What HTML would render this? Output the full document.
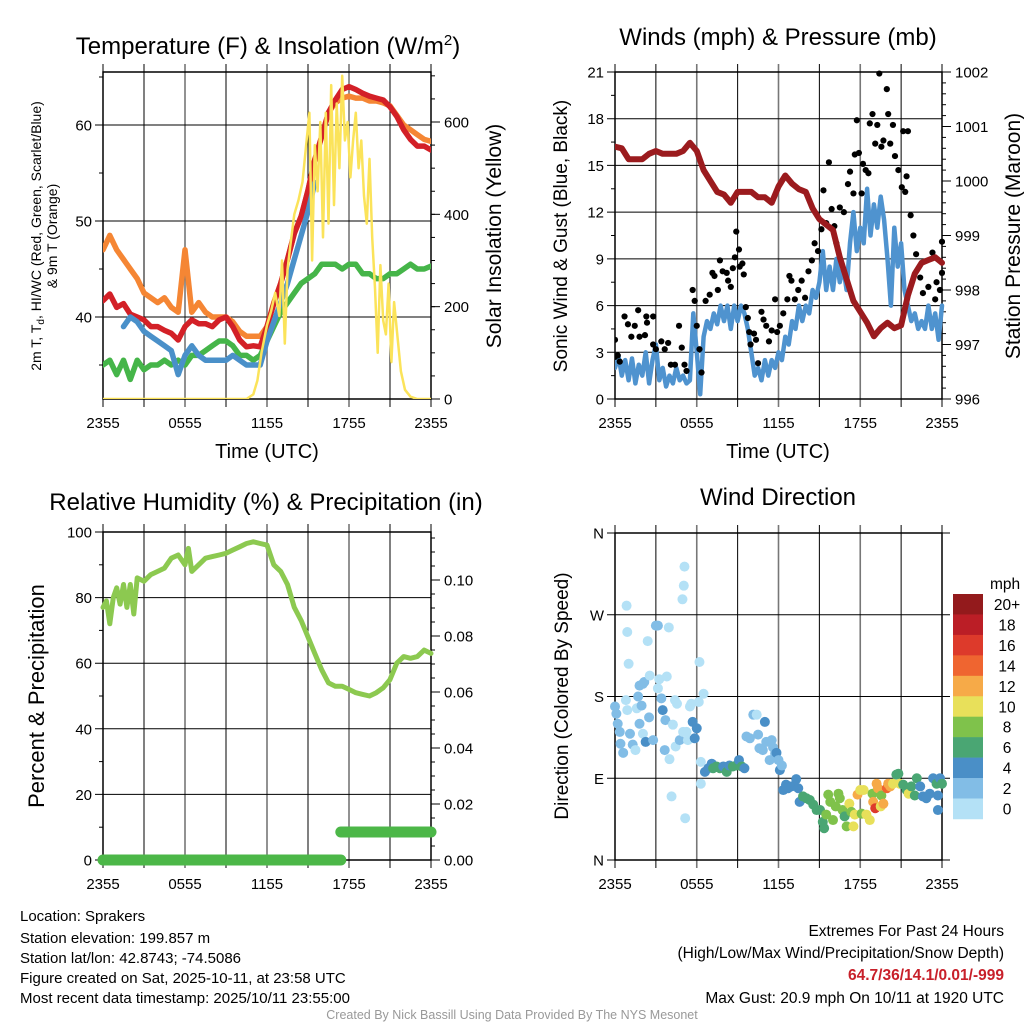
<!DOCTYPE html>
<html><head><meta charset="utf-8"><title>Station meteogram</title>
<style>
html,body{margin:0;padding:0;background:#fff;}
svg{display:block;font-family:"Liberation Sans",sans-serif;}
</style></head>
<body>
<svg id="fig" width="1024" height="1024" viewBox="0 0 1024 1024" xmlns="http://www.w3.org/2000/svg">
<rect x="0" y="0" width="1024" height="1024" fill="#fff"/>
<g id="layer"></g>
<text x="268" y="54" font-size="24" text-anchor="middle">Temperature (F) &amp; Insolation (W/m<tspan dy="-9" font-size="15">2</tspan><tspan dy="9">)</tspan></text>
<g font-size="15" fill="#000">
<text x="20" y="921">Location: Sprakers</text>
<text x="20" y="943">Station elevation: 199.857 m</text>
<text x="20" y="963">Station lat/lon: 42.8743; -74.5086</text>
<text x="20" y="983">Figure created on Sat, 2025-10-11, at 23:58 UTC</text>
<text x="20" y="1003">Most recent data timestamp: 2025/10/11 23:55:00</text>
</g>
<g font-size="15.5" text-anchor="end">
<text x="1004" y="936">Extremes For Past 24 Hours</text>
<text x="1004" y="958">(High/Low/Max Wind/Precipitation/Snow Depth)</text>
<text x="1004" y="980" fill="#c8202a" font-weight="bold">64.7/36/14.1/0.01/-999</text>
<text x="1004" y="1003">Max Gust: 20.9 mph On 10/11 at 1920 UTC</text>
</g>
<text x="512" y="1019" font-size="12.5" fill="#999" text-anchor="middle">Created By Nick Bassill Using Data Provided By The NYS Mesonet</text>
</svg>
<script>
// ---------- data ----------
const timeLabels = ["2355","0555","1155","1755","2355"];
const tempRed = [41.7,42.4,41,41.4,40.3,40,39.7,39,39,38.6,38.3,37.6,39,39.7,39.3,39.3,39,39.7,40,39,37.6,36.9,37,36.9,39,41.4,43.5,46,48.7,50.5,53.2,56.4,58.8,61.3,62.6,63.7,64,63.7,63.3,63,62.8,62.6,61.9,60.9,59.5,58.5,57.8,57.8,57.4];
const temp9m = [47,48.5,47,46,45,44,42.5,42,41.5,42,41,40.5,47,40.5,41.5,40.5,40,40,40,39.5,38.5,38,38,38,39,41.5,43.5,46,48.7,50.5,53.2,56.4,58.8,61.3,62.3,62.8,63,62.8,62.8,62.5,62.5,62.3,62,61,60,59.5,59,58.5,58.3];
const dewGreen = [35,35.5,34,35.5,33.5,35.5,34.5,35,35,35.5,35,35.5,35,36,36,36.5,37,37.5,37.5,37,36,36,35.5,36,37.5,39,40.5,41.5,42.5,43.5,44,44.5,45.5,45.5,45.5,45,45.5,45.5,44.5,44.5,44,44,44.5,44.5,45,45.5,45,45,45.3];
const hiwcBlue = [null,null,null,39,40,39.5,38.5,38,37.5,37,36.5,34,36,37,36,35.5,35.5,35.5,35.5,36,35.5,35,35,35,37.5,39.5,41.5,43.5,46,48.5,51,54,null,null,null,null,null,null,null,null,null,null,null,null,null,null,null,null,null];
const insolHours = [0,10.5,11,11.3,11.6,12,12.3,12.6,12.9,13.1,13.3,13.5,13.7,14,14.3,14.6,14.9,15.1,15.3,15.5,15.7,15.9,16.1,16.3,16.5,16.7,16.9,17.1,17.3,17.5,17.7,17.9,18.1,18.3,18.5,18.7,18.9,19.1,19.3,19.5,19.7,19.9,20.1,20.3,20.5,20.7,20.9,21.1,21.3,21.5,21.8,22.1,22.5,23,24];
const insolation = [0,0,10,40,100,160,190,230,180,300,120,280,330,400,430,470,560,620,300,550,450,600,350,620,380,680,420,640,500,700,560,600,480,560,620,500,560,440,380,520,350,240,100,290,170,140,250,80,210,150,60,20,5,0,0];
const windSpeed = [2,2.8,1.5,2.5,1.2,2.6,1,2.2,1.5,3,1,2.5,3.5,1.2,2,0.8,1.5,1,2,1.2,1.5,1,1.2,5.5,3,
 0.3,4,5,4.5,5.5,4.8,6,5,6,4.5,6,5,6,5.5,4.5,3,1.5,2,1.2,2.5,1.5,2.5,2,3,2.5,4,3.5,5,4.5,6,5,6,5.5,7,6.5,7.5,9.5,7,8.5,7,9,7.5,8.5,7,10,12,9.5,11,10,13.5,10.5,12.5,11,13,11.5,9,6,11,8.5,10,7,6,5,5.5,4.5,5,4.5,6,4.5,5.5,3.8,6];
const gustHours = [0,0,0.2,0.35,0.7,0.95,1.2,1.45,1.7,1.8,2.2,2.3,2.35,2.8,2.8,3.0,3.4,3.65,3.9,4.1,4.4,4.7,4.9,5.1,5.25,5.7,5.85,6.0,6.2,6.35,6.65,6.95,7.15,7.3,7.55,7.7,7.9,8.2,8.3,8.5,8.65,8.8,8.9,9.1,9.15,9.35,9.45,9.6,9.75,9.85,9.95,10.2,10.35,10.5,10.75,10.9,11.1,11.3,11.5,11.75,11.9,12.1,12.35,12.65,12.8,12.95,13.2,13.45,13.7,13.95,14.2,14.45,14.65,14.9,15.15,15.3,15.5,15.7,15.9,16.1,16.25,16.5,16.8,17.1,17.25,17.5,17.6,17.75,17.9,18.1,18.2,18.4,18.6,18.7,18.9,19.1,19.25,19.4,19.55,19.7,19.95,20.05,20.2,20.4,20.55,20.8,21.05,21.15,21.3,21.4,21.5,21.7,21.9,22.1,22.4,22.6,23.0,23.3,23.5,23.6,23.85,24,24];
const gusts = [3.8,2.7,2.8,2.4,5.3,4.8,4,4.7,5.7,4,4.1,5.3,4.9,5.3,3.5,3.2,3.7,3.2,3.6,2.2,2.2,4.7,3.3,2.2,1.8,7.0,6.3,4.7,3.2,1.7,6.3,6.7,8.1,7.9,7,8.9,8.2,8.1,7.6,7.2,8.4,9.1,10.75,9.6,8.5,8.7,8.0,5.9,5.2,4.3,3.5,4.2,3.8,2.3,5.6,5.1,4.7,3.7,4.4,6.4,4.3,4.7,5.5,6.4,7.9,7.6,6.4,7,7.6,6.5,8.2,8.9,10,9.5,10.9,13.4,11.3,15.2,12.2,11.1,10,12.3,12,13.8,14.6,13.2,15.7,17.9,15.8,13.2,15.1,14.7,14.5,17.7,18.3,16.4,17.6,20.9,16.2,16.6,19.9,18.3,16.4,17.6,15.6,14.7,13.6,17.2,13.3,14.3,17.2,11.8,10.5,9.3,7.8,6.8,7.2,9.4,6.4,7.5,7.0,10.1,8.1];
const pressure = [1000.63,1000.6,1000.4,1000.4,1000.4,1000.5,1000.55,1000.5,1000.5,1000.5,1000.55,1000.7,1000.55,1000.2,1000.0,999.8,999.75,999.6,999.8,999.8,999.8,999.7,999.7,999.6,999.9,1000.1,999.95,999.85,999.8,999.5,999.3,999.2,999.1,998.6,998.2,997.8,997.6,997.4,997.15,997.3,997.4,997.3,997.35,997.9,998.3,998.5,998.55,998.6,998.5];
const rhHours = [0,0.25,0.5,0.75,1,1.25,1.5,1.75,2,2.25,2.5,3,3.5,4,4.5,5,5.5,6,6.25,6.5,7,7.5,8,8.5,9,9.5,10,10.5,11,11.5,12,12.5,13,13.5,14,14.5,15,15.5,16,16.5,17,17.5,18,18.5,19,19.5,20,20.5,21,21.5,22,22.5,23,23.5,24];
const rh = [77,79,72,80,83,78,84,77,84,75,86,85,87,88,89,92,93,90,95,88,90,92,92.5,93,93.5,94.5,95.5,96.5,97,96.5,96,90,88,84,77,73,68,63,58,54,53,53,52,51,50.5,50,51,52.5,55,60,62,61.5,62,64,63];
const precipHours = [0,17.4,17.4,24];
const precip = [0,0,0.01,0.01];
const dirHours = [0,0.1,0.2,0.35,0.4,0.6,0.8,0.9,0.85,0.9,1.0,1.1,1.3,1.5,1.6,1.7,1.8,1.95,2.05,2.15,1.8,2.05,2.25,2.4,2.55,2.5,2.8,3.0,3.15,3.15,3.25,3.4,3.5,3.65,3.7,3.8,3.95,4.0,4.15,4.25,4.4,4.45,4.55,4.75,4.95,5.0,5.05,5.1,5.15,5.25,5.35,5.5,5.6,5.7,5.85,6.0,6.15,6.2,6.3,6.3,6.5,
 6.6,6.85,7.1,7.2,7.45,7.7,7.95,8.2,8.4,8.65,8.9,9.1,9.3,9.5,
 9.65,9.9,10.15,10.4,10.5,10.6,10.85,11.0,11.1,11.35,11.5,11.6,11.75,11.85,12.0,12.1,12.25,
 12.35,12.55,12.7,12.95,13.3,13.45,13.55,13.8,14.05,14.3,14.55,14.8,15.05,15.25,15.35,15.5,15.65,15.8,16.0,16.2,16.4,16.5,16.7,16.85,17.0,17.2,17.35,17.5,17.6,17.8,18.0,18.1,18.25,18.45,18.7,18.9,18.95,19.1,19.2,19.3,19.5,19.55,19.7,19.95,20.05,20.2,20.4,20.65,20.8,20.9,21.15,21.4,21.55,21.75,22.0,22.15,22.4,22.6,22.85,23.1,23.35,23.6,23.7,23.7,23.85,24.0];
const dirDeg = [169,161,150,141,128,118,176,165,280,251,216,139,127,121,167,180,192,170,194,196,150,139,130,241,203,157,132,258,258,189,199,178,165,121,154,202,256,111,70,149,176,125,172,132,287,141,302,323,46,141,132,169,172,152,134,145,174,218,108,84,183,
 97,101,106,101,103,101,103,97,104,103,104,110,103,101,
 136,134,160,160,138,123,121,152,130,110,132,124,117,118,110,99,104,
 77,83,79,81,89,79,64,70,68,66,61,55,55,42,35,50,72,64,44,59,73,68,55,48,37,62,53,37,50,72,77,51,77,50,44,73,64,57,84,79,59,71,62,79,84,81,84,94,95,84,83,77,73,81,71,90,81,70,68,73,90,84,71,55,90,84];
const dirSpeed = [3,3,2,2,3,3,1,1,1,1,1,2,3,1,1,3,3,3,3,3,3,1,4,1,1,3,3,3,3,1,1,3,4,3,3,1,1,1,1,1,1,1,1,2,1,1,1,1,1,1,1,1,1,4,4,4,1,1,1,1,1,
 4,4,4,6,6,6,4,6,4,6,6,4,6,4,
 2,2,2,1,2,2,2,4,2,2,2,2,3,4,3,4,2,
 5,5,5,5,4,5,5,6,6,7,6,7,6,6,7,8,9,8,8,8,9,8,8,7,8,10,8,10,10,12,11,8,10,11,11,9,13,16,13,12,10,9,12,15,12,12,10,7,6,10,7,6,10,6,7,6,5,5,5,4,5,6,5,4,4,6];
const speedBinLabels = ["0","2","4","6","8","10","12","14","16","18","20+"];
const speedBinColors = ["#b4e1f6","#82bde6","#4a8fc7","#4aa673","#7fc24b","#e8e05a","#f6aa48","#ef6530","#dd3a2b","#bb1e26","#931a1c"];

// ---------- helpers ----------
const NS = "http://www.w3.org/2000/svg";
const layer = document.getElementById("layer");
function mk(tag, attrs, parent) {
  const el = document.createElementNS(NS, tag);
  for (const k in attrs) el.setAttribute(k, attrs[k]);
  (parent || layer).appendChild(el);
  return el;
}
function txt(s, attrs, parent) { const t = mk("text", attrs, parent); t.textContent = s; return t; }
function linScale(d0, d1, r0, r1) { return v => r0 + (v - d0) / (d1 - d0) * (r1 - r0); }
function pathFrom(xs, ys, sx, sy) {
  let d = "", pen = false;
  for (let i = 0; i < xs.length; i++) {
    if (ys[i] === null || ys[i] === undefined) { pen = false; continue; }
    d += (pen ? "L" : "M") + sx(xs[i]).toFixed(1) + "," + sy(ys[i]).toFixed(1);
    pen = true;
  }
  return d;
}
const halfHours = tempRed.map((_, i) => i * 0.5);
const quarterHours = windSpeed.map((_, i) => i * 0.25);

function frame(p) {
  const g = mk("g", {});
  
  
  for (let k = 0; k <= 8; k++) {
    const x = p.x0 + k * (p.x1 - p.x0) / 8;
    const gray = (k % 2 === 0 && k > 0 && k < 8);
    const l = mk("line", {x1: x, x2: x, y1: p.y0 - 8, y2: p.y1 + 8, stroke: gray ? "#777" : "#000", "stroke-width": gray ? 1.6 : 1}, g);
    
    
  }
  p.leftTicks.forEach(v => {
    const y = p.sl(v);
    const l = mk("line", {x1: p.x0 - 8, x2: p.x1 + (p.hgridRight ? 8 : 0), y1: y, y2: y, stroke: "#000", "stroke-width": 1}, g);
    
    
    const t = txt(p.leftFmt(v), {x: p.x0 - 11, y: y + 5.5, "font-size": 15, "text-anchor": "end"}, g);
    
    
  });
  (p.leftMinor || []).forEach(v => {
    const y = p.sl(v);
    const l = mk("line", {x1: p.x0 - 4, x2: p.x0, y1: y, y2: y, stroke: "#000", "stroke-width": 1}, g);
    
    
  });
  const b = mk("rect", {x: p.x0, y: p.y0, width: p.x1 - p.x0, height: p.y1 - p.y0, fill: "none", stroke: "#000", "stroke-width": 1.5}, g);
  
  
  if (p.sr) {
    p.rightTicks.forEach(v => {
      const y = p.sr(v);
      const l = mk("line", {x1: p.x1, x2: p.x1 + 9, y1: y, y2: y, stroke: "#000", "stroke-width": 1}, g);
      
      
      const t = txt(p.rightFmt(v), {x: p.x1 + 13, y: y + 5.5, "font-size": 15}, g);
      
      
    });
    (p.rightMinor || []).forEach(v => {
      const y = p.sr(v);
      if (y < p.y0 - 0.5) return;
      const l = mk("line", {x1: p.x1, x2: p.x1 + 4, y1: y, y2: y, stroke: "#000", "stroke-width": 1}, g);
      
      
    });
  }
  timeLabels.forEach((s, i) => {
    const x = p.x0 + i * (p.x1 - p.x0) / 4;
    const t = txt(s, {x: x, y: p.y1 + 29, "font-size": 15, "text-anchor": "middle"}, g);
    
    
  });
  return g;
}
function range(a, b, s) { const r = []; for (let v = a; v <= b + 1e-9; v += s) r.push(+v.toFixed(4)); return r; }
function series(p, clip, xs, ys, sy, color, w, name) {
  const el = mk("path", {d: pathFrom(xs, ys, p.sx, sy), fill: "none", stroke: color, "stroke-width": w, "stroke-linejoin": "round", "stroke-linecap": "round", "clip-path": "url(#" + clip + ")"});
  
  
  return el;
}

// ---------- panel 1: temperature ----------
const P1 = {name: "temperature", x0: 103, x1: 431, y0: 72, y1: 399};
P1.sx = linScale(0, 24, P1.x0, P1.x1);
P1.sl = linScale(40, 60, 317, 125);
P1.sr = linScale(0, 600, 399, 122);
P1.leftTicks = [40, 50, 60]; P1.leftFmt = v => String(v); P1.leftMinor = [35, 45, 55, 65];
P1.rightTicks = [0, 200, 400, 600]; P1.rightFmt = v => String(v); P1.rightMinor = range(0, 700, 50);
frame(P1);
const clip1 = mk("clipPath", {id: "c1"}); mk("rect", {x: P1.x0, y: P1.y0, width: P1.x1 - P1.x0, height: P1.y1 - P1.y0}, clip1);
series(P1, "c1", halfHours, temp9m, P1.sl, "#f58634", 5.5, "temp-9m-line");
series(P1, "c1", halfHours, dewGreen, P1.sl, "#45b549", 5.5, "dewpoint-line");
series(P1, "c1", halfHours, tempRed, P1.sl, "#d32027", 5.5, "temp-2m-line");
series(P1, "c1", halfHours, hiwcBlue, P1.sl, "#4a90c9", 5.5, "heat-index-windchill-line");
series(P1, "c1", insolHours, insolation, P1.sr, "#fbe35a", 2.5, "solar-insolation-line");
let t;
t = txt("Time (UTC)", {x: 267, y: 458, "font-size": 20, "text-anchor": "middle"});


t = txt("Solar Insolation (Yellow)", {x: 0, y: 0, "font-size": 21, "text-anchor": "middle", transform: "translate(501,236) rotate(-90)"});


t = mk("text", {x: 0, y: 0, "font-size": 14, "text-anchor": "middle", transform: "translate(41,236) rotate(-90)"});


t.innerHTML = '2m T, T<tspan dy="3" font-size="10">d</tspan><tspan dy="-3">, HI/WC (Red, Green, Scarlet/Blue)</tspan>';
t = txt("& 9m T (Orange)", {x: 0, y: 0, "font-size": 14, "text-anchor": "middle", transform: "translate(57,236) rotate(-90)"});



// ---------- panel 2: winds ----------
const P2 = {name: "winds", x0: 615, x1: 942, y0: 72, y1: 399};
P2.sx = linScale(0, 24, P2.x0, P2.x1);
P2.sl = linScale(0, 21, 399, 72);
P2.sr = linScale(996, 1002, 399, 72);
P2.leftTicks = range(0, 21, 3); P2.leftFmt = v => String(v); P2.leftMinor = range(1.5, 19.5, 3);
P2.rightTicks = range(996, 1002, 1); P2.rightFmt = v => String(v); P2.rightMinor = range(996, 1002, 0.2);
frame(P2);
const clip2 = mk("clipPath", {id: "c2"}); mk("rect", {x: P2.x0, y: P2.y0 - 3, width: P2.x1 - P2.x0 + 3, height: P2.y1 - P2.y0 + 3}, clip2);
series(P2, "c2", quarterHours, windSpeed, P2.sl, "#4f93cf", 4.5, "sonic-wind-line");
const gustG = mk("g", {"clip-path": "url(#c2)"});


gusts.forEach((v, i) => {
  const c = mk("circle", {cx: P2.sx(gustHours[i]), cy: P2.sl(v), r: 3.1, fill: "#000"}, gustG);
  
  
});
series(P2, "c2", halfHours, pressure, P2.sr, "#9b1b1e", 6, "station-pressure-line");
t = txt("Winds (mph) & Pressure (mb)", {x: 778, y: 45, "font-size": 24, "text-anchor": "middle"});


t = txt("Time (UTC)", {x: 778, y: 458, "font-size": 20, "text-anchor": "middle"});


t = txt("Sonic Wind & Gust (Blue, Black)", {x: 0, y: 0, "font-size": 19, "text-anchor": "middle", transform: "translate(567,236) rotate(-90)"});


t = txt("Station Pressure (Maroon)", {x: 0, y: 0, "font-size": 21, "text-anchor": "middle", transform: "translate(1020,236) rotate(-90)"});



// ---------- panel 3: RH ----------
const P3 = {name: "humidity", x0: 103, x1: 431, y0: 532, y1: 860};
P3.sx = linScale(0, 24, P3.x0, P3.x1);
P3.sl = linScale(0, 100, 860, 532);
P3.sr = linScale(0, 0.1, 860, 580);
P3.leftTicks = range(0, 100, 20); P3.leftFmt = v => String(v); P3.leftMinor = range(10, 90, 20);
P3.rightTicks = range(0, 0.1, 0.02); P3.rightFmt = v => v.toFixed(2); P3.rightMinor = range(0, 0.115, 0.005);
frame(P3);
const clip3 = mk("clipPath", {id: "c3"}); mk("rect", {x: P3.x0 - 10, y: P3.y0, width: P3.x1 - P3.x0 + 20, height: P3.y1 - P3.y0 + 10}, clip3);
series(P3, "c3", rhHours, rh, P3.sl, "#8cc950", 5, "relative-humidity-line");
for (let i = 0; i < precip.length - 1; i++) {
  if (precip[i] !== precip[i + 1]) continue;
  const el = mk("line", {x1: P3.sx(precipHours[i]), x2: P3.sx(precipHours[i + 1]), y1: P3.sr(precip[i]), y2: P3.sr(precip[i + 1]), stroke: "#4cb748", "stroke-width": 11, "stroke-linecap": "round"});
  
  
}
t = txt("Relative Humidity (%) & Precipitation (in)", {x: 266, y: 510, "font-size": 24, "text-anchor": "middle"});


t = txt("Percent & Precipitation", {x: 0, y: 0, "font-size": 22, "text-anchor": "middle", transform: "translate(44,696) rotate(-90)"});



// ---------- panel 4: wind direction ----------
const P4 = {name: "direction", x0: 615, x1: 942, y0: 533, y1: 860};
P4.sx = linScale(0, 24, P4.x0, P4.x1);
P4.sl = linScale(0, 360, 860, 533);
P4.leftTicks = [0, 90, 180, 270, 360]; P4.leftFmt = v => ["N","E","S","W","N"][v / 90]; P4.hgridRight = true;
frame(P4);
const dirG = mk("g", {});


dirDeg.forEach((d, i) => {
  const bin = Math.min(10, Math.floor(dirSpeed[i] / 2));
  const c = mk("circle", {cx: P4.sx(dirHours[i]), cy: P4.sl(d), r: 5, fill: speedBinColors[bin]}, dirG);
  
  
});
t = txt("Wind Direction", {x: 778, y: 505, "font-size": 24, "text-anchor": "middle"});


t = txt("Direction (Colored By Speed)", {x: 0, y: 0, "font-size": 19, "text-anchor": "middle", transform: "translate(568,696) rotate(-90)"});


const cb = mk("g", {});


const cbTop = 594, cbH = 20.45;
for (let k = 0; k < speedBinColors.length; k++) {
  const idx = speedBinColors.length - 1 - k;
  const r = mk("rect", {x: 953, y: cbTop + k * cbH, width: 30, height: cbH + 0.3, fill: speedBinColors[idx]}, cb);
  
  
  const l = txt(speedBinLabels[idx], {x: 1007, y: cbTop + k * cbH + 16, "font-size": 15.5, "text-anchor": "middle"}, cb);
  
  
}
t = txt("mph", {x: 990, y: 589, "font-size": 15.5}, cb);


</script>
</body></html>
